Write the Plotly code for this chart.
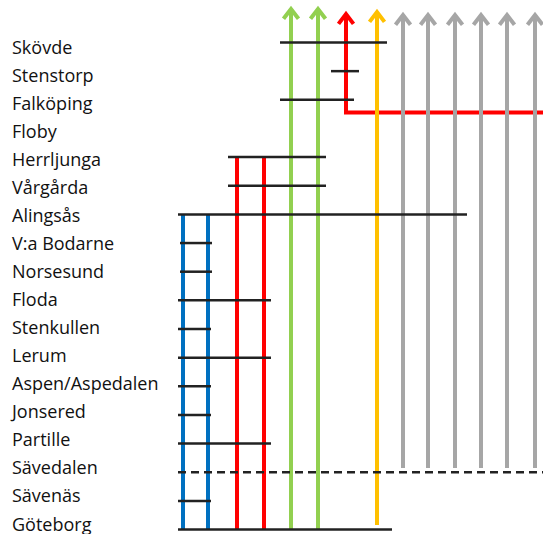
import plotly.graph_objects as go

# ---- data ----
stations = ["Skövde", "Stenstorp", "Falköping", "Floby", "Herrljunga", "Vårgårda",
            "Alingsås", "V:a Bodarne", "Norsesund", "Floda", "Stenkullen", "Lerum",
            "Aspen/Aspedalen", "Jonsered", "Partille", "Sävedalen", "Sävenäs", "Göteborg"]
# platform bar extents along the x scale (None = no bar)
bar_left  = [280, 331, 280, None, 228, 228, 178, 180, 180, 178, 178, 178, 178, 178, 178, 178, 178, 178]
bar_right = [387, 359, 354, None, 326, 326, 467, 212, 212, 271, 211, 271, 211, 211, 271, 543, 211, 392]
bar_dashed = [s == "Sävedalen" for s in stations]

# service lines: x lane, start row, end row (row index, negative = beyond Skövde), colour, arrow
track_x     = [183, 208, 237, 264, 291, 318, 377, 403, 428, 455, 481, 507, 535]
track_from  = [17, 17, 17, 17, 17, 17, 16.84, 14.85, 14.85, 14.85, 14.85, 14.85, 14.85]
track_to    = [6, 6, 4, 4, -1.17, -1.17, -1.06, -0.96, -0.96, -0.96, -0.96, -0.96, -0.96]
track_color = ["#0070C0", "#0070C0", "#FF0000", "#FF0000", "#92D050", "#92D050", "#FFC000",
               "#A6A6A6", "#A6A6A6", "#A6A6A6", "#A6A6A6", "#A6A6A6", "#A6A6A6"]
track_arrow = [False, False, False, False, True, True, True, True, True, True, True, True, True]

# red branch from the east joining at Falköping and heading north
branch_x = [543, 346, 346]
branch_y = [2.44, 2.44, -0.99]
branch_color = "#FF0000"

fig = go.Figure()

def arrowhead(x, y, color):
    fig.add_trace(go.Scatter(x=[x - 7.5, x, x + 7.5], y=[y + 0.34, y, y + 0.34], mode="lines",
                             line=dict(color=color, width=4), hoverinfo="skip", showlegend=False))

# red branch first (others cross over it)
fig.add_trace(go.Scatter(x=branch_x, y=branch_y, mode="lines",
                         line=dict(color=branch_color, width=4), hoverinfo="skip", showlegend=False))
arrowhead(branch_x[-1], branch_y[-1], branch_color)

for x, y0, y1, c, a in zip(track_x, track_from, track_to, track_color, track_arrow):
    fig.add_trace(go.Scatter(x=[x, x], y=[y0, y1], mode="lines",
                             line=dict(color=c, width=4), hoverinfo="skip", showlegend=False))
    if a:
        arrowhead(x, y1, c)

for i, (l, r, d) in enumerate(zip(bar_left, bar_right, bar_dashed)):
    if l is None:
        continue
    fig.add_trace(go.Scatter(x=[l, r], y=[i, i], mode="lines",
                             line=dict(color="#222222", width=2.5, dash="8px,5px" if d else "solid"),
                             hoverinfo="skip", showlegend=False))

# station labels on a second y scale
fig.add_trace(go.Scatter(x=[12] * len(stations), y=list(range(len(stations))), mode="text",
                         text=stations, textposition="middle right", yaxis="y2",
                         textfont=dict(family="Open Sans, sans-serif", size=18, color="#111111"),
                         hoverinfo="skip", showlegend=False))

fig.update_layout(
    width=543, height=534, margin=dict(l=0, r=0, t=0, b=0),
    paper_bgcolor="white", plot_bgcolor="white",
    xaxis=dict(range=[0, 543], visible=False, fixedrange=True),
    yaxis=dict(range=[17 + (534 - 529.55) / 28.65, -42.5 / 28.65], visible=False, fixedrange=True),
    yaxis2=dict(range=[17 + (534 - 526) / 28.05, -49 / 28.05], overlaying="y", visible=False, fixedrange=True),
)

fig.write_html("out.html", config={"displayModeBar": False},
               post_script="document.body.style.margin='0';document.body.style.overflow='hidden';")
